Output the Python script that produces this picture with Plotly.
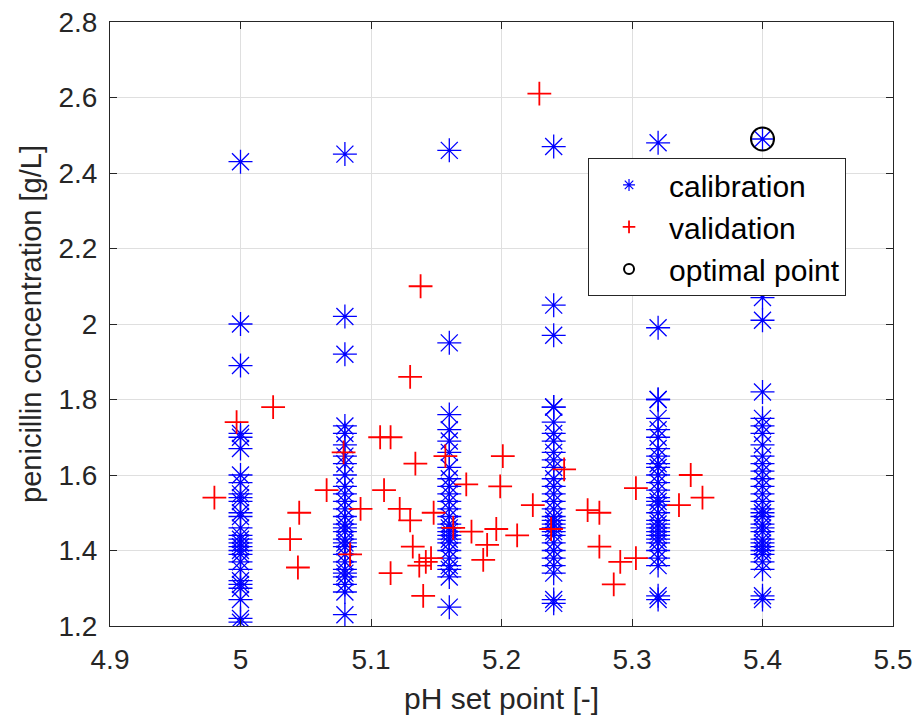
import plotly.graph_objects as go

# Calibration runs: pH set points and penicillin concentrations per set point
cal_ph_levels = [5.00, 5.08, 5.16, 5.24, 5.32, 5.40]
cal_conc = [
    [2.43, 2.00, 1.89, 1.71, 1.70, 1.67, 1.60, 1.58, 1.55, 1.54, 1.53, 1.50, 1.49, 1.46,
     1.44, 1.43, 1.42, 1.41, 1.40, 1.39, 1.37, 1.35, 1.32, 1.31, 1.30, 1.27, 1.22, 1.21],
    [2.45, 2.02, 1.92, 1.73, 1.71, 1.68, 1.65, 1.63, 1.60, 1.57, 1.55, 1.53, 1.51, 1.49,
     1.47, 1.46, 1.45, 1.43, 1.42, 1.41, 1.39, 1.37, 1.35, 1.34, 1.33, 1.31, 1.29, 1.23],
    [2.46, 1.95, 1.76, 1.72, 1.69, 1.66, 1.62, 1.59, 1.57, 1.55, 1.53, 1.51, 1.49, 1.47,
     1.46, 1.45, 1.44, 1.43, 1.42, 1.40, 1.38, 1.36, 1.35, 1.33, 1.25],
    [2.47, 2.05, 1.97, 1.78, 1.78, 1.74, 1.71, 1.69, 1.66, 1.64, 1.62, 1.59, 1.57, 1.55,
     1.53, 1.51, 1.49, 1.48, 1.47, 1.46, 1.45, 1.44, 1.42, 1.40, 1.38, 1.36, 1.34, 1.27, 1.26],
    [2.48, 1.99, 1.80, 1.80, 1.75, 1.72, 1.70, 1.67, 1.65, 1.63, 1.62, 1.60, 1.58, 1.56,
     1.54, 1.53, 1.52, 1.50, 1.48, 1.47, 1.46, 1.45, 1.44, 1.43, 1.42, 1.40, 1.38, 1.36, 1.28, 1.27],
    [2.49, 2.07, 2.01, 1.82, 1.75, 1.73, 1.71, 1.68, 1.65, 1.63, 1.61, 1.59, 1.57, 1.55,
     1.53, 1.51, 1.50, 1.49, 1.47, 1.46, 1.45, 1.43, 1.42, 1.41, 1.40, 1.39, 1.37, 1.35, 1.28, 1.27],
]

# Validation runs
val_ph = [4.980, 4.997, 5.025, 5.045, 5.038, 5.044, 5.066, 5.079, 5.084, 5.092,
          5.107, 5.115, 5.110, 5.122, 5.115, 5.130, 5.132, 5.138, 5.130, 5.134,
          5.157, 5.148, 5.137, 5.142, 5.146, 5.140, 5.173, 5.177, 5.186, 5.189,
          5.196, 5.199, 5.201, 5.212, 5.224, 5.229, 5.238, 5.248, 5.163, 5.266,
          5.275, 5.275, 5.291, 5.303, 5.286, 5.303, 5.336, 5.345, 5.354]
val_conc = [1.54, 1.74, 1.78, 1.50, 1.43, 1.355, 1.56, 1.66, 1.39, 1.51,
            1.70, 1.70, 1.56, 1.51, 1.34, 1.48, 1.41, 2.10, 1.86, 1.63,
            1.65, 1.50, 1.36, 1.37, 1.38, 1.28, 1.575, 1.45, 1.375, 1.415,
            1.457, 1.57, 1.65, 1.44, 1.52, 2.61, 1.457, 1.615, 1.46, 1.507,
            1.50, 1.41, 1.37, 1.565, 1.31, 1.38, 1.52, 1.60, 1.54]

# Optimal point
opt_ph = [5.40]
opt_conc = [2.49]

cal_x, cal_y = [], []
for ph, vals in zip(cal_ph_levels, cal_conc):
    cal_x += [ph] * len(vals)
    cal_y += vals

FONT = "Liberation Sans, Arial, sans-serif"
TXT = "#262626"

fig = go.Figure()
fig.add_trace(go.Scatter(x=cal_x, y=cal_y, mode="markers", showlegend=False,
                         marker=dict(symbol="asterisk-open", size=20, color="#0000ff",
                                     line=dict(color="#0000ff", width=1.3))))
fig.add_trace(go.Scatter(x=val_ph, y=val_conc, mode="markers", showlegend=False,
                         marker=dict(symbol="cross-thin-open", size=17, color="#ff0000",
                                     line=dict(color="#ff0000", width=1.8))))
fig.add_trace(go.Scatter(x=opt_ph, y=opt_conc, mode="markers", showlegend=False,
                         marker=dict(symbol="circle-open", size=23, color="#000000",
                                     line=dict(color="#000000", width=2))))
# legend entries
fig.add_trace(go.Scatter(x=[None], y=[None], mode="markers", name="calibration",
                         marker=dict(symbol="asterisk-open", size=10, color="#0000ff",
                                     line=dict(color="#0000ff", width=1.2))))
fig.add_trace(go.Scatter(x=[None], y=[None], mode="markers", name="validation",
                         marker=dict(symbol="cross-thin-open", size=9, color="#ff0000",
                                     line=dict(color="#ff0000", width=1.8))))
fig.add_trace(go.Scatter(x=[None], y=[None], mode="markers", name="optimal point",
                         marker=dict(symbol="circle-open", size=10, color="#000000",
                                     line=dict(color="#000000", width=2))))

axis_common = dict(showgrid=True, gridcolor="#dfdfdf", gridwidth=1,
                   showline=True, linecolor=TXT, linewidth=1, mirror="ticks",
                   ticks="inside", ticklen=7, tickcolor=TXT, zeroline=False,
                   tickfont=dict(family=FONT, size=28, color=TXT))

fig.update_xaxes(range=[4.9, 5.5], dtick=0.1, tick0=4.9,
                 title=dict(text="pH set point [-]", font=dict(family=FONT, size=30, color=TXT),
                            standoff=14),
                 ticklabelstandoff=8, **axis_common)
fig.update_yaxes(range=[1.2, 2.8], dtick=0.2, tick0=1.2,
                 title=dict(text="penicillin concentration [g/L]",
                            font=dict(family=FONT, size=29, color=TXT), standoff=8),
                 ticklabelstandoff=6, **axis_common)

fig.update_layout(
    width=918, height=722,
    margin=dict(l=110, r=25, t=22, b=96, autoexpand=False),
    paper_bgcolor="white", plot_bgcolor="white",
    font=dict(family=FONT, color=TXT),
    legend=dict(x=0.6105, y=0.775, xanchor="left", yanchor="top",
                bgcolor="white", bordercolor=TXT, borderwidth=1,
                font=dict(family=FONT, size=30, color="#000000"),
                itemwidth=70),
)

fig.write_html("out.html")
